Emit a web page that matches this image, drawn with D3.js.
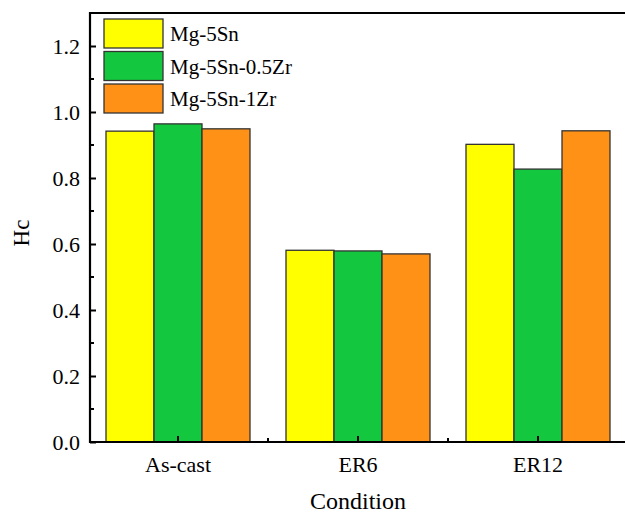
<!DOCTYPE html>
<html>
<head>
<meta charset="utf-8">
<script src="https://cdn.jsdelivr.net/npm/d3@7"></script>
<style>
  body { margin: 0; background: #fff; overflow: hidden; }
  text { font-family: "Liberation Serif", "Times New Roman", serif; fill: #000; }
</style>
</head>
<body>
<div id="chart"></div>
<script>
// data
var conditions = ["As-cast", "ER6", "ER12"];
var alloys = ["Mg-5Sn", "Mg-5Sn-0.5Zr", "Mg-5Sn-1Zr"];
var mg5Sn = [0.942, 0.581, 0.902];
var mg5Sn05Zr = [0.964, 0.579, 0.827];
var mg5Sn1Zr = [0.949, 0.570, 0.943];
var yTicks = [0, 0.2, 0.4, 0.6, 0.8, 1.0, 1.2];
var colors = ["#ffff00", "#13c83f", "#ff9116"];

var series = [mg5Sn, mg5Sn05Zr, mg5Sn1Zr];

var svg = d3.select("#chart").append("svg")
    .attr("width", 625)
    .attr("height", 514);

var x = d3.scaleBand().domain(conditions).range([88, 628]).paddingInner(0.2).paddingOuter(0.1);
var xSub = d3.scaleBand().domain(alloys).range([0, x.bandwidth()]);
var y = d3.scaleLinear().domain([0, 1.3]).range([442, 13]);

// bars
conditions.forEach(function (c, i) {
    svg.append("g")
        .selectAll("rect")
        .data(alloys)
        .enter()
        .append("rect")
        .attr("x", function (a) { return x(c) + xSub(a); })
        .attr("y", function (a, j) { return y(series[j][i]); })
        .attr("width", xSub.bandwidth())
        .attr("height", function (a, j) { return y(0) - y(series[j][i]); })
        .style("fill", function (a, j) { return colors[j]; })
        .style("stroke", "#333")
        .style("stroke-width", 1.3);
});

// y axis, ticks inside
var yAxis = svg.append("g")
    .attr("transform", "translate(90,0)")
    .call(d3.axisLeft(y).tickValues(yTicks).tickFormat(d3.format(".1f")).tickSizeInner(-6).tickSizeOuter(0).tickPadding(10));
yAxis.selectAll("text").style("font-size", "22px");
yAxis.select(".domain").remove();
yAxis.selectAll(".tick line").style("stroke-width", 2);
var yMinor = d3.range(0.1, 1.3, 0.2);
svg.append("g").selectAll("line").data(yMinor).enter().append("line")
    .attr("x1", 90).attr("x2", 94)
    .attr("y1", function (d) { return y(d); }).attr("y2", function (d) { return y(d); })
    .style("stroke", "#000").style("stroke-width", 2);

// x axis, ticks inside
var xAxis = svg.append("g")
    .attr("transform", "translate(0,442)")
    .call(d3.axisBottom(x).tickSizeInner(-6).tickSizeOuter(0).tickPadding(14));
xAxis.selectAll("text").style("font-size", "22px");
xAxis.select(".domain").remove();
xAxis.selectAll(".tick line").style("stroke-width", 2);
var xMinor = [x("ER6") - x.step() * x.paddingInner() / 2, x("ER12") - x.step() * x.paddingInner() / 2];
svg.append("g").selectAll("line").data(xMinor).enter().append("line")
    .attr("x1", function (d) { return d; }).attr("x2", function (d) { return d; })
    .attr("y1", 442).attr("y2", 438)
    .style("stroke", "#000").style("stroke-width", 2);

// frame
svg.append("line").attr("x1", 90).attr("x2", 90).attr("y1", 12).attr("y2", 443)
    .style("stroke", "#000").style("stroke-width", 2.2);
svg.append("line").attr("x1", 89).attr("x2", 628).attr("y1", 442).attr("y2", 442)
    .style("stroke", "#000").style("stroke-width", 2.2);
svg.append("line").attr("x1", 89).attr("x2", 628).attr("y1", 13).attr("y2", 13)
    .style("stroke", "#000").style("stroke-width", 2.2);

// axis titles
svg.append("text")
    .attr("text-anchor", "middle")
    .attr("transform", "translate(29,233) rotate(-90)")
    .style("font-size", "23px")
    .text("Hc");
svg.append("text")
    .attr("text-anchor", "middle")
    .attr("x", 358)
    .attr("y", 509)
    .style("font-size", "24px")
    .text("Condition");

// legend
var legend = svg.append("g").selectAll("g").data(alloys).enter().append("g")
    .attr("transform", function (d, i) { return "translate(104," + (19 + i * 32.5) + ")"; });
legend.append("rect")
    .attr("width", 59).attr("height", 29)
    .style("fill", function (d, i) { return colors[i]; })
    .style("stroke", "#333").style("stroke-width", 1.3);
legend.append("text")
    .attr("x", 66).attr("y", 22)
    .style("font-size", "21px")
    .text(function (d) { return d; });
</script>
</body>
</html>
